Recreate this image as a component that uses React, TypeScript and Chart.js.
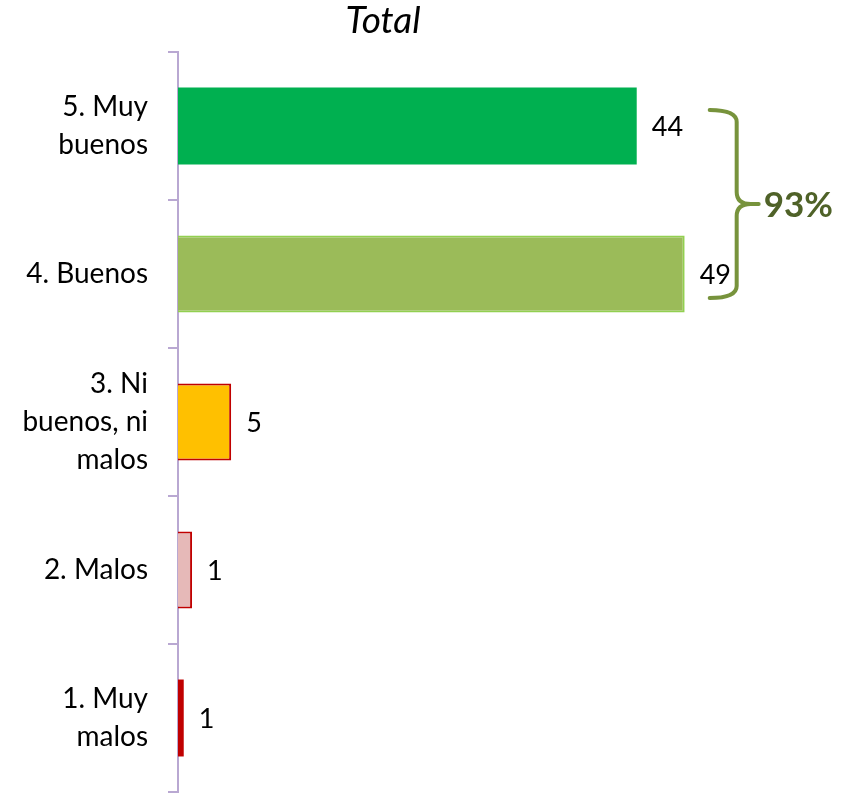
import React, { useEffect, useRef } from "react";
import { Chart, registerables } from "chart.js";

Chart.register(...registerables);

const categories: string[][] = [
  ["5. Muy", "buenos"],
  ["4. Buenos"],
  ["3. Ni", "buenos, ni", "malos"],
  ["2. Malos"],
  ["1. Muy", "malos"],
];
const values: number[] = [44, 48.6, 5.1, 1.35, 0.55];
const valueLabels: string[] = ["44", "49", "5", "1", "1"];
const fillColors: string[] = ["#00B050", "#9BBB59", "#FFC000", "#E6B9B8", "#C00000"];
const borderColors: string[] = ["#00B050", "#92D050", "#C00000", "#C00000", "#C00000"];
const titleText = "Total";
const braceText = "93%";
const braceFrom = 0;
const braceTo = 1;

const FONT = "Lato, 'Open Sans', sans-serif";

export default function App() {
  const ref = useRef<HTMLCanvasElement | null>(null);

  useEffect(() => {
    if (!ref.current) return;
    const overlay = {
      id: "overlay",
      afterDatasetsDraw(chart: any) {
        const ctx = chart.ctx;
        const meta = chart.getDatasetMeta(0);
        ctx.save();
        ctx.font = `27px ${FONT}`;
        ctx.fillStyle = "#000";
        ctx.textAlign = "left";
        ctx.textBaseline = "middle";
        meta.data.forEach((bar: any, i: number) => {
          ctx.fillText(valueLabels[i], bar.x + 15, bar.y + 1);
        });
        // brace
        const yS = chart.scales.y;
        const xS = chart.scales.x;
        const top = yS.getPixelForValue(braceFrom) - 16;
        const bot = yS.getPixelForValue(braceTo) + 24;
        const mid = (top + bot) / 2;
        const x0 = xS.getPixelForValue(Math.max(values[braceFrom], values[braceTo])) + 25;
        const xv = x0 + 27;
        const xt = xv + 22;
        const r = 12;
        ctx.strokeStyle = "#77933C";
        ctx.lineWidth = 4;
        ctx.lineCap = "round";
        ctx.lineJoin = "round";
        ctx.beginPath();
        ctx.moveTo(x0, top);
        ctx.quadraticCurveTo(xv, top, xv, top + r);
        ctx.lineTo(xv, mid - r);
        ctx.quadraticCurveTo(xv, mid, xt - 8, mid);
        ctx.lineTo(xt, mid);
        ctx.moveTo(xt - 8, mid);
        ctx.quadraticCurveTo(xv, mid, xv, mid + r);
        ctx.lineTo(xv, bot - r);
        ctx.quadraticCurveTo(xv, bot, x0, bot);
        ctx.stroke();
        ctx.font = `bold 35px ${FONT}`;
        ctx.fillStyle = "#4F6228";
        ctx.textAlign = "left";
        ctx.textBaseline = "middle";
        ctx.fillText(braceText, xt + 5, mid + 2);
        ctx.restore();
      },
    };

    const chart = new Chart(ref.current, {
      type: "bar",
      data: {
        labels: categories,
        datasets: [
          {
            data: values,
            backgroundColor: fillColors,
            borderColor: borderColors,
            borderWidth: [0, 2, 2, 2, 0],
            categoryPercentage: 1,
            barPercentage: 0.52,
          },
        ],
      },
      options: {
        indexAxis: "y",
        animation: false,
        responsive: false,
        devicePixelRatio: 1,
        layout: { padding: { left: 0, right: 75, top: 0, bottom: 1 } },
        plugins: {
          legend: { display: false },
          tooltip: { enabled: false },
          title: {
            display: true,
            text: titleText,
            color: "#000",
            font: { family: FONT, size: 37, style: "italic", weight: "normal", lineHeight: 1.0 },
            padding: { top: 3, bottom: 12 },
          },
        },
        scales: {
          x: { display: false, min: 0, max: 56.4 },
          y: {
            afterFit: (s: any) => {
              s.width = 178;
              s.paddingTop = 0;
              s.paddingBottom = 0;
            },
            grid: {
              display: true,
              drawOnChartArea: false,
              drawTicks: true,
              tickLength: 10,
              color: "#B9A8D2",
              lineWidth: 2,
              offset: true,
            },
            border: { display: true, color: "#B9A8D2", width: 2 },
            ticks: {
              color: "#000",
              padding: 20,
              font: { family: FONT, size: 28, lineHeight: 1.36 },
            },
          },
        },
      },
      plugins: [overlay],
    });
    return () => chart.destroy();
  }, []);

  return (
    <div style={{ position: "absolute", left: 0, top: 0, width: 841, height: 793, background: "#fff" }}>
      <canvas ref={ref} width={841} height={793} style={{ display: "block" }} />
    </div>
  );
}
